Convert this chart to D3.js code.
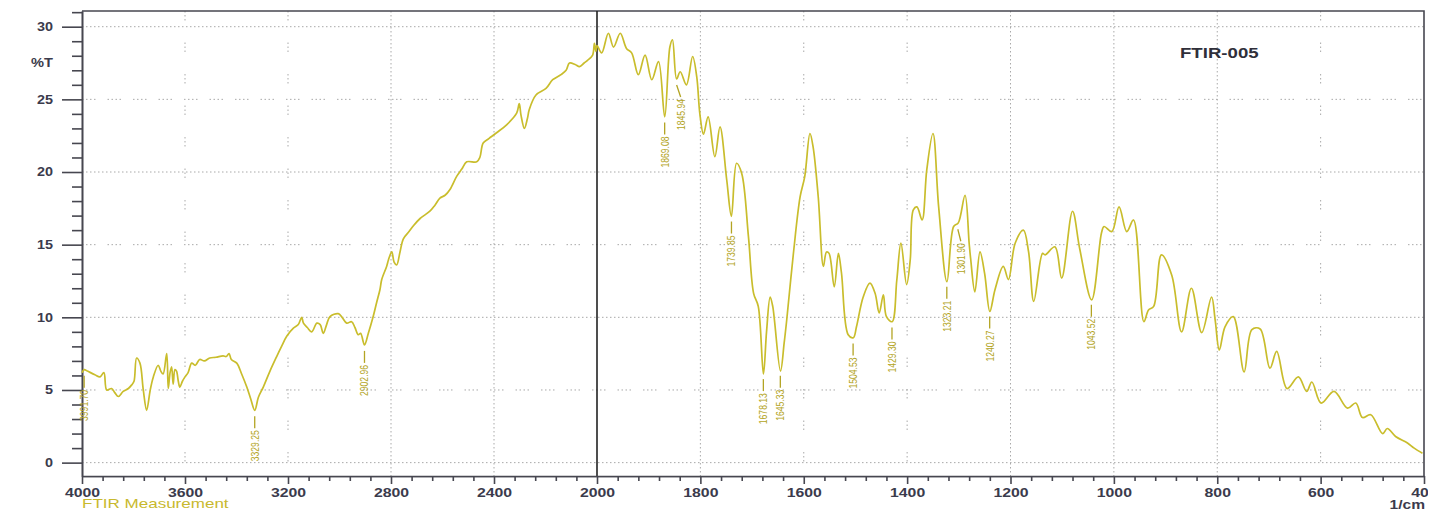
<!DOCTYPE html>
<html><head><meta charset="utf-8">
<script src="https://cdn.jsdelivr.net/npm/d3@7"></script>
<style>
html,body{margin:0;padding:0;background:#fff;}
svg{display:block;font-family:"Liberation Sans",Arial,sans-serif;}
</style></head><body>
<svg id="chart" width="1437" height="513"></svg>
<script>
// FTIR transmittance spectrum, wavenumber (1/cm) against %T
const wavenumbers = [
  4000,3991,3979,3950,3930,3915,3904,3885,3872,3859,3840,3820,3807,3798,3788,3775,3762,3749,3735,3723,
  3704,3694,3685,3671,3665,3658,3652,3646,3639,3633,3626,3620,3610,3600,3588,3574,3560,3543,3525,3504,
  3480,3452,3440,3429,3420,3399,3380,3360,3345,3329,3315,3296,3270,3244,3225,3205,3179,3160,3147,3140,
  3125,3108,3088,3075,3063,3050,3037,3005,2990,2972,2953,2940,2927,2918,2903,2888,2870,2856,2843,2836,
  2817,2810,2797,2788,2778,2765,2752,2730,2713,2687,2649,2630,2610,2590,2571,2545,2525,2506,2467,2455,
  2442,2420,2390,2351,2312,2302,2295,2282,2270,2263,2237,2198,2172,2140,2120,2107,2085,2068,2050,2036,
  2017,2010,2004,2000,
  1991,1978,1968,1955,1943,1933,1920,1907,1894,1881,1869,1859,1854,1846,1839,1827,1815,1807,1801,1794,
  1785,1772,1762,1749,1740,1730,1720,1707,1697,1688,1678,1672,1665,1660,1645,1638,1633,1620,1607,1598,
  1588,1582,1572,1562,1556,1551,1541,1533,1527,1514,1504,1498,1485,1472,1462,1454,1446,1440,1429,1420,
  1412,1401,1394,1388,1381,1371,1362,1350,1339,1323,1310,1301,1288,1280,1277,1269,1259,1250,1240,1230,
  1214,1204,1191,1175,1165,1155,1138,1133,1114,1101,1080,1066,1043,1024,1019,1004,990,975,962,942,
  933,923,908,888,869,850,830,811,804,796,785,769,748,733,717,698,685,665,643,627,
  617,599,574,548,532,519,503,480,471,455,432,419,403
];
const transmittance = [
  6.2,6.4,6.3,6.05,5.9,6.2,5.0,5.1,4.8,4.55,4.9,5.1,5.35,5.6,7.2,6.85,5.0,3.6,5.0,5.9,
  6.7,6.3,6.1,7.5,5.1,6.2,6.6,5.4,6.4,6.3,5.6,5.2,5.6,5.9,6.2,6.85,6.7,7.1,7.0,7.2,
  7.25,7.35,7.3,7.5,7.1,6.85,6.1,5.2,4.4,3.6,4.5,5.2,6.3,7.3,8.0,8.7,9.25,9.5,10.0,9.6,
  9.3,9.0,9.6,9.5,8.9,9.5,10.05,10.25,10.0,9.6,9.7,9.3,8.8,8.9,8.1,8.9,10.0,11.0,11.9,12.6,
  13.5,13.95,14.5,13.8,13.6,14.5,15.4,15.9,16.3,16.8,17.3,17.7,18.2,18.4,18.8,19.7,20.2,20.7,20.7,21.0,
  22.0,22.3,22.7,23.25,24.05,24.7,23.9,23.0,23.7,24.3,25.3,25.75,26.35,26.7,27.0,27.5,27.4,27.25,27.5,27.7,
  28.05,28.85,28.3,28.7,
  28.2,29.55,28.6,29.55,28.5,28.2,26.7,28.05,26.35,27.6,23.8,28.6,29.1,26.4,26.9,26.0,27.95,26.55,24.0,22.6,
  23.8,21.05,23.1,19.45,16.95,20.6,19.9,15.55,11.65,10.75,6.1,9.0,11.4,10.75,6.3,8.2,9.8,14.4,18.3,19.7,
  22.65,21.75,18.3,13.5,14.5,14.4,12.1,14.4,13.05,8.8,8.6,9.35,11.4,12.35,11.65,10.3,11.55,10.05,9.7,12.55,
  15.1,12.25,13.95,17.4,17.6,16.7,20.15,22.65,17.6,12.45,16.25,16.5,18.4,15.1,14.0,11.75,14.5,13.0,10.4,11.9,
  13.5,12.6,15.1,16.0,14.5,11.1,14.4,14.3,14.85,12.7,17.3,14.7,11.2,15.8,16.25,15.9,17.6,15.9,16.7,9.7,
  10.5,10.75,14.3,12.9,9.0,12.0,8.95,11.4,9.8,7.75,9.35,10.05,6.25,9.15,9.2,6.5,7.65,5.1,5.9,4.9,
  5.55,4.1,4.9,3.75,4.1,3.1,3.3,2.0,2.35,1.8,1.35,1.0,0.65
];

// Peak-picked wavenumbers written beside the trace
const peakLabels = [3991.70,3329.25,2902.96,1869.08,1845.94,1739.85,1678.13,1645.33,1504.53,1429.30,1323.21,1301.90,1240.27,1043.52];

const xTickLabels = [4000,3600,3200,2800,2400,2000,1800,1600,1400,1200,1000,800,600,400];
const yTickLabels = [0,5,10,15,20,25,30];
const sampleName = "FTIR-005";
const yAxisTitle = "%T";
const xAxisUnit = "1/cm";
const footerText = "FTIR Measurement";

// ---------------------------------------------------------------------------
const svg = d3.select("#chart");
const L = 82, R = 1424, T = 11, B = 476;
const traceColor = "#c9bd2c", labelColor = "#b3a423", axisColor = "#474750", textColor = "#3b3b4c";

// wavenumber axis changes its scale at 2000 1/cm
const x = d3.scaleLinear().domain([4000, 2000, 400]).range([L, 597, R]);
const y = d3.scaleLinear().domain([-0.92, 31.08]).range([B, T]);

// ---- grid ----
const grid = svg.append("g").attr("stroke", "#a9a9a9").attr("stroke-width", 1).attr("fill", "none");
const denseY = [0, 10, 20, 30];
yTickLabels.forEach(v => {
  grid.append("line").attr("x1", L).attr("x2", R).attr("y1", y(v)).attr("y2", y(v))
    .attr("stroke-dasharray", denseY.includes(v) ? "1.5,2.5" : "1.5,2.5,1.5,2.5,1.5,2.5,1.5,12");
});
const denseX = [2800, 2400, 1800, 1200, 1000, 800];
xTickLabels.filter(v => v !== 4000 && v !== 400 && v !== 2000).forEach(v => {
  grid.append("line").attr("x1", x(v)).attr("x2", x(v)).attr("y1", T).attr("y2", B)
    .attr("stroke-dasharray", denseX.includes(v) ? "1.5,2.5" : "1.5,2.5,1.5,2.5,1.5,22");
});

// ---- frame ----
svg.append("path").attr("d", `M${L},${T}H${R}V${B}`).attr("fill", "none")
  .attr("stroke", axisColor).attr("stroke-width", 1.6);
svg.append("line").attr("x1", x(2000)).attr("x2", x(2000)).attr("y1", T).attr("y2", B)
  .attr("stroke", "#222").attr("stroke-width", 1.6);

// ---- axes ----
const xMinor = d3.range(4000, 2000, -80).concat(d3.range(2000, 399, -40)).filter(v => !xTickLabels.includes(v));
const yMinor = d3.range(0, 32, 1).filter(v => !yTickLabels.includes(v));

function styleAxis(g) {
  g.select(".domain").attr("stroke", axisColor).attr("stroke-width", 1.6);
  g.selectAll(".tick line").attr("stroke", axisColor).attr("stroke-width", 1.6);
}

svg.append("defs").append("clipPath").attr("id", "xlabClip")
  .append("rect").attr("x", 0).attr("y", 0).attr("width", 1428).attr("height", 513);

const gx = svg.append("g").attr("transform", `translate(0,${B})`).attr("clip-path", "url(#xlabClip)")
  .call(d3.axisBottom(x).tickValues(xTickLabels).tickSize(8).tickSizeOuter(0).tickFormat(d3.format("d")));
styleAxis(gx);
gx.selectAll(".tick text").attr("dy", null).attr("y", 21)
  .attr("transform", "scale(1.32,1)")
  .attr("font-size", 12).attr("font-weight", "bold").attr("fill", textColor).attr("font-family", "Liberation Sans, Arial");
const gxm = svg.append("g").attr("transform", `translate(0,${B})`)
  .call(d3.axisBottom(x).tickValues(xMinor).tickSize(5).tickSizeOuter(0).tickFormat(""));
styleAxis(gxm);

const gy = svg.append("g").attr("transform", `translate(${L},0)`)
  .call(d3.axisLeft(y).tickValues(yTickLabels).tickSize(20).tickSizeOuter(0));
styleAxis(gy);
gy.selectAll(".tick text").attr("x", -29 / 1.2).attr("transform", "scale(1.2,1)")
  .attr("font-size", 12).attr("font-weight", "bold").attr("fill", textColor).attr("font-family", "Liberation Sans, Arial");
const gym = svg.append("g").attr("transform", `translate(${L},0)`)
  .call(d3.axisLeft(y).tickValues(yMinor).tickSize(10).tickSizeOuter(0).tickFormat(""));
styleAxis(gym);

// stretched text helper
function label(txt, px, py, opts) {
  const s = opts.sx || 1.3;
  svg.append("text").attr("transform", `translate(${px},${py}) scale(${s},1)`)
    .attr("text-anchor", opts.anchor || "start")
    .attr("font-size", opts.size || 12).attr("font-weight", opts.weight || "normal")
    .attr("fill", opts.fill || textColor).text(txt);
}
label(yAxisTitle, 53, 67, {anchor: "end", weight: "bold", sx: 1.22});
label(sampleName, 1180, 58, {size: 14, weight: "bold", sx: 1.33, fill: "#2f2f3a"});
label(footerText, L, 508, {size: 12, sx: 1.42, fill: "#c8b92e"});
label(xAxisUnit, 1425, 509, {anchor: "end", size: 12, weight: "bold", sx: 1.3});

// ---- spectrum ----
const pts = wavenumbers.map((w, i) => [w, transmittance[i]]);
svg.append("path").datum(pts)
  .attr("fill", "none").attr("stroke", traceColor).attr("stroke-width", 1.7).attr("stroke-linejoin", "round")
  .attr("d", d3.line().x(d => x(d[0])).y(d => y(d[1])).curve(d3.curveCatmullRom.alpha(0.5)));

// ---- peak annotations ----
function tAt(w) {
  for (let i = 0; i < wavenumbers.length - 1; i++) {
    const a = wavenumbers[i], b = wavenumbers[i + 1];
    if (w <= a && w >= b) {
      const f = (a - w) / (a - b);
      return transmittance[i] + f * (transmittance[i + 1] - transmittance[i]);
    }
  }
  return transmittance[0];
}
const labelShift = {"1845.94": 4, "1301.90": 3};
const ann = svg.append("g");
peakLabels.forEach(p => {
  const key = p.toFixed(2);
  const px = x(p), py = y(tAt(p));
  const dx = labelShift[key] || 0;
  const y0 = py + 6, y1 = py + 18;
  ann.append("path").attr("d", `M${px},${y0}L${px + dx},${y1}`)
    .attr("stroke", labelColor).attr("stroke-width", 1.3).attr("fill", "none");
  ann.append("text")
    .attr("transform", `translate(${px + dx},${y1 + 2}) scale(1.3,1) rotate(-90)`)
    .attr("text-anchor", "end").attr("dy", "0.35em")
    .attr("font-size", 8.6).attr("fill", labelColor).text(key);
});
</script>
</body></html>
